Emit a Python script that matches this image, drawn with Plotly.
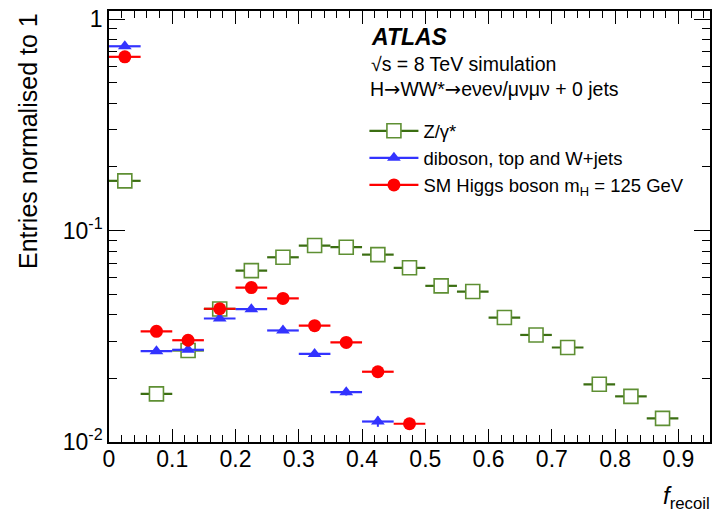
import plotly.graph_objects as go

# bin centres (bin width 0.05)
x_z = [0.025, 0.075, 0.125, 0.175, 0.225, 0.275, 0.325, 0.375, 0.425, 0.475,
       0.525, 0.575, 0.625, 0.675, 0.725, 0.775, 0.825, 0.875]
y_z = [0.172, 0.0169, 0.0271, 0.0426, 0.0647, 0.0748, 0.085, 0.0835, 0.077, 0.0667,
       0.0548, 0.0515, 0.0388, 0.0321, 0.028, 0.01875, 0.01644, 0.01294]
ey_z = [0.002, 0.0006, 0.0005, 0.0006, 0.0007, 0.0007, 0.0008, 0.0008, 0.0008, 0.0007,
        0.0006, 0.0006, 0.0005, 0.0005, 0.0005, 0.0006, 0.0006, 0.0006]

x_b = [0.025, 0.075, 0.125, 0.175, 0.225, 0.275, 0.325, 0.375, 0.425]
y_b = [0.745, 0.0269, 0.0273, 0.0384, 0.0425, 0.0337, 0.0261, 0.0172, 0.0125]
ey_b = [0.004, 0.0004, 0.0004, 0.0005, 0.0005, 0.0005, 0.0004, 0.0006, 0.0007]

x_h = [0.025, 0.075, 0.125, 0.175, 0.225, 0.275, 0.325, 0.375, 0.425, 0.475]
y_h = [0.664, 0.0334, 0.0303, 0.0427, 0.0538, 0.0478, 0.0355, 0.0296, 0.0215, 0.0122]
ey_h = [0.004, 0.0005, 0.0005, 0.0005, 0.0006, 0.0006, 0.0005, 0.0005, 0.0007, 0.0007]

half_width = 0.025

names = ["Z/γ*", "diboson, top and W+jets", "SM Higgs boson m<sub>H</sub> = 125 GeV"]

GREEN_LINE = "#3b6e12"
GREEN_MARK = "#5e8f33"
BLUE = "#3333ff"
RED = "#ff0000"
FONT = "Liberation Sans, Arial, Helvetica, sans-serif"
ARROW = '<span style="font-family:DejaVu Sans">→</span>'

fig = go.Figure()

def add_series(x, y, ey, name, lc, mc, symbol, size, fill):
    mline = dict(color=mc, width=1.6 if fill == "white" else 0)
    fig.add_trace(go.Scatter(
        x=x, y=y, mode="markers", showlegend=False,
        error_x=dict(type="constant", value=half_width, width=0, thickness=2.2, color=lc),
        error_y=dict(type="data", array=ey, width=0, thickness=2, color=lc),
        marker=dict(symbol=symbol, size=size, color=fill, line=mline),
    ))
    fig.add_trace(go.Scatter(
        x=[None], y=[None], mode="lines+markers", name=name,
        line=dict(color=lc, width=2.2),
        marker=dict(symbol=symbol, size=size, color=fill, line=mline),
    ))

add_series(x_z, y_z, ey_z, names[0], GREEN_LINE, GREEN_MARK, "square", 14, "white")
add_series(x_b, y_b, ey_b, names[1], BLUE, BLUE, "triangle-up", 12, BLUE)
add_series(x_h, y_h, ey_h, names[2], RED, RED, "circle", 13, RED)

fig.update_layout(
    width=714, height=518,
    margin=dict(l=109, r=2, t=11, b=76),
    paper_bgcolor="white", plot_bgcolor="white",
    font=dict(family=FONT, color="black", size=17),
    legend=dict(x=0.425, y=0.765, xanchor="left", yanchor="top",
                font=dict(size=18.5), bgcolor="rgba(0,0,0,0)",
                tracegroupgap=0, itemwidth=49),
)

fig.update_xaxes(
    range=[0, 0.95], tickmode="array",
    tickvals=[0, 0.1, 0.2, 0.3, 0.4, 0.5, 0.6, 0.7, 0.8, 0.9],
    ticktext=["0", "0.1", "0.2", "0.3", "0.4", "0.5", "0.6", "0.7", "0.8", "0.9"],
    ticks="inside", ticklen=13, tickwidth=1.3, tickcolor="black",
    minor=dict(dtick=0.02, tick0=0, ticks="inside", ticklen=7, tickwidth=1.2, tickcolor="black"),
    showline=True, linecolor="black", linewidth=1.5, mirror="ticks",
    showgrid=False, zeroline=False, ticklabelstandoff=-4,
    tickfont=dict(size=23, family=FONT),
)

minor_vals = [m * 10 ** e for e in (-2, -1) for m in range(2, 10)]
fig.update_yaxes(
    type="log", range=[-2, 0.039],
    tickmode="array", tickvals=[0.01, 0.1, 1],
    ticktext=["10<sup>-2</sup>", "10<sup>-1</sup>", "1"],
    ticks="inside", ticklen=16, tickwidth=1.3, tickcolor="black",
    minor=dict(tickvals=minor_vals, ticks="inside", ticklen=8, tickwidth=1.2, tickcolor="black"),
    showline=True, linecolor="black", linewidth=1.5, mirror="ticks",
    showgrid=False, zeroline=False,
    tickfont=dict(size=23, family=FONT),
)

fig.add_annotation(text="Entries normalised to 1", textangle=-90,
                   xref="paper", yref="paper", x=0, y=1, xanchor="center", yanchor="top",
                   xshift=-81, yshift=0, showarrow=False, font=dict(size=25, family=FONT))
fig.add_annotation(text="<i>f</i><sub>recoil</sub>",
                   xref="paper", yref="paper", x=1, y=0, xanchor="right", yanchor="top",
                   yshift=-38, xshift=2, showarrow=False, font=dict(size=24, family=FONT))
fig.add_annotation(text="<b><i>ATLAS</i></b>",
                   xref="paper", yref="paper", x=0.432, y=0.94, xanchor="left", yanchor="middle",
                   showarrow=False, font=dict(size=23, family=FONT))
fig.add_annotation(text="√s = 8 TeV simulation",
                   xref="paper", yref="paper", x=0.432, y=0.877, xanchor="left", yanchor="middle",
                   showarrow=False, font=dict(size=19.5, family=FONT))
fig.add_annotation(text="H" + ARROW + "WW*" + ARROW + "eνeν/μνμν + 0 jets",
                   xref="paper", yref="paper", x=0.431, y=0.818, xanchor="left", yanchor="middle",
                   showarrow=False, font=dict(size=19.5, family=FONT))

fig.write_html("out.html")
